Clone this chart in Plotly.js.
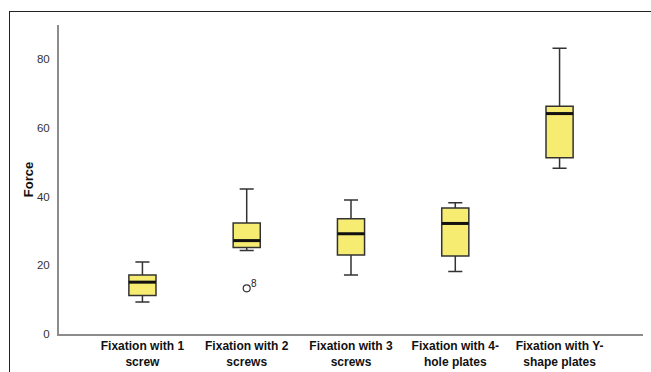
<!DOCTYPE html>
<html><head><meta charset="utf-8">
<script src="https://cdn.plot.ly/plotly-3.0.1.min.js"></script>
<style>html,body{margin:0;padding:0;background:#fff;}#wrap{position:relative;width:651px;height:372px;}#frame{position:absolute;left:9px;top:11px;width:700px;height:400px;border-left:1.5px solid #222;border-top:1.5px solid #222;pointer-events:none;}</style>
</head><body><div id="wrap"><div id="chart" style="width:651px;height:372px;"></div><div id="frame"></div></div>
<script>
const categories = ["Fixation with 1<br>screw","Fixation with 2<br>screws","Fixation with 3<br>screws","Fixation with 4-<br>hole plates","Fixation with Y-<br>shape plates"];
const lowerWhisker = [9.3, 24.3, 17.2, 18.2, 48.3];
const q1 = [11.2, 25.2, 23.0, 22.7, 51.3];
const median = [15.1, 27.2, 29.2, 32.2, 64.2];
const q3 = [17.2, 32.3, 33.6, 36.7, 66.3];
const upperWhisker = [21.0, 42.2, 39.0, 38.2, 83.2];
const outlierCategory = [1];
const outlierValue = [13.3];
const outlierLabel = ["8"];

const xi = categories.map((c,i)=>i);
const boxW = 0.26;
const traces = [{
  type:'box', x: xi, q1: q1, median: median, q3: q3,
  lowerfence: lowerWhisker, upperfence: upperWhisker,
  width: boxW, whiskerwidth: 0.52,
  fillcolor:'#F6EC72', line:{color:'#333333', width:1.5},
  boxpoints:false, hoverinfo:'skip', showlegend:false
}];
const mx=[], my=[];
median.forEach((m,i)=>{ mx.push(i-boxW/2, i+boxW/2, null); my.push(m,m,null); });
traces.push({type:'scatter', mode:'lines', x:mx, y:my, line:{color:'#111', width:3}, showlegend:false, hoverinfo:'skip'});
traces.push({type:'scatter', mode:'markers', x:outlierCategory, y:outlierValue,
  marker:{symbol:'circle-open', size:7, color:'#333', line:{width:1.2}}, showlegend:false, hoverinfo:'skip'});
const annotations = outlierLabel.map((t,i)=>({x:outlierCategory[i], y:outlierValue[i], text:t, showarrow:false,
  xanchor:'left', yanchor:'bottom', xshift:2, yshift:-3, font:{family:'Liberation Sans, Arial', size:10, color:'#222'}}));

const layout = {
  width:651, height:372,
  margin:{l:59, r:8, t:25, b:38},
  paper_bgcolor:'#fff', plot_bgcolor:'#fff',
  font:{family:'Liberation Sans, Arial, sans-serif', color:'#222'},
  annotations: annotations,
  xaxis:{range:[-0.8,4.8], tickvals:xi, ticktext:categories, showgrid:false, zeroline:false,
    showline:true, linecolor:'#8c8c8c', linewidth:2, ticks:'', tickfont:{size:12, color:'#111', weight:'bold'}, fixedrange:true},
  yaxis:{range:[0,90], tickvals:[0,20,40,60,80], showgrid:false, zeroline:false,
    showline:true, linecolor:'#8c8c8c', linewidth:2, ticks:'', ticklabelstandoff:5,
    tickfont:{size:11.5, color:'#333'},
    title:{text:'Force', font:{size:13, color:'#111', weight:'bold'}, standoff:0}},
  showlegend:false
};
Plotly.newPlot('chart', traces, layout, {displayModeBar:false, staticPlot:true});
</script></body></html>
